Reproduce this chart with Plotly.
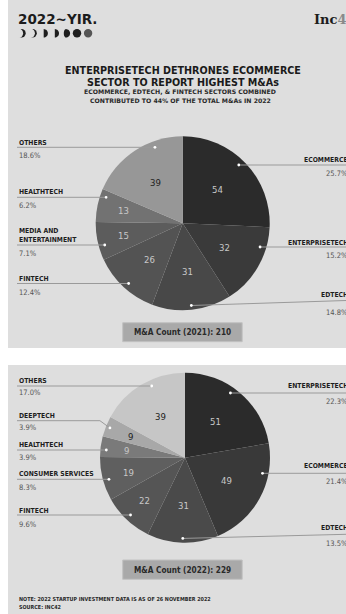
import math
import plotly.graph_objects as go

# ---------------- data ----------------
sectors_2021 = ["ECOMMERCE", "ENTERPRISETECH", "EDTECH", "FINTECH",
                "MEDIA AND<br>ENTERTAINMENT", "HEALTHTECH", "OTHERS"]
counts_2021 = [54, 32, 31, 26, 15, 13, 39]

sectors_2022 = ["ENTERPRISETECH", "ECOMMERCE", "EDTECH", "FINTECH",
                "CONSUMER SERVICES", "HEALTHTECH", "DEEPTECH", "OTHERS"]
counts_2022 = [51, 49, 31, 22, 19, 9, 9, 39]

years = ["2021", "2022"]

title_lines = ["ENTERPRISETECH DETHRONES ECOMMERCE", "SECTOR TO REPORT HIGHEST M&As"]
subtitle_lines = ["ECOMMERCE, EDTECH, & FINTECH SECTORS COMBINED",
                  "CONTRIBUTED TO 44% OF THE TOTAL M&As IN 2022"]
note_lines = ["NOTE: 2022 STARTUP INVESTMENT DATA IS AS OF 26 NOVEMBER 2022",
              "SOURCE: INC42"]

# ---------------- styles / layout ----------------
W, H = 346, 614
PANEL = "#dedede"

colors_2021 = ["#2b2b2b", "#3a3a3a", "#484848", "#535353", "#5c5c5c", "#727272", "#979797"]
colors_2022 = ["#2b2b2b", "#393939", "#4a4a4a", "#555555", "#5f5f5f", "#7a7a7a", "#a8a8a8", "#c6c6c6"]
numcol_2021 = ["#c8c8c8"] * 6 + ["#222222"]
numcol_2022 = ["#c8c8c8"] * 6 + ["#222222", "#222222"]

# pie geometry in pixels: centre x, centre y, radius
geo = [(182.7, 223.3, 87.0), (185.0, 457.7, 85.0)]

# label layout per sector (side, name y, line y, percent y, leader mode)
lab_2021 = [("r", 160, 165, 173.5, "h"), ("r", 242.5, 247, 255.5, "h"),
            ("r", 295, 300.5, 312, "m"), ("l", 279, 283.5, 292, "h"),
            ("l", 235.8, 245, 254, "h"), ("l", 191.7, 197.3, 205.5, "h"),
            ("l", 142.7, 147.3, 155.5, "h")]
lab_2022 = [("r", 386, 393, 401, "h"), ("r", 465.7, 473.3, 481.7, "h"),
            ("r", 528.3, 534.3, 543.3, "m"), ("l", 510.7, 515, 524, "h"),
            ("l", 474.3, 479.3, 487.7, "h"), ("l", 445, 450, 457, "h"),
            ("l", 416, 420.7, 427.5, "m"), ("l", 380.7, 386, 392.5, "h")]

COND = "DejaVu Sans Condensed, Liberation Sans Narrow, Roboto, sans-serif"
WIDE = "DejaVu Sans, Verdana, sans-serif"


def px(x):
    return x / W


def py(y):
    return 1 - y / H


fig = go.Figure()
shapes = []
annotations = []

# panels
shapes.append(dict(type="rect", xref="paper", yref="paper", x0=px(8), x1=1, y0=py(348), y1=1,
                   fillcolor=PANEL, line=dict(width=0), layer="below"))
shapes.append(dict(type="rect", xref="paper", yref="paper", x0=px(8), x1=1, y0=0, y1=py(365),
                   fillcolor=PANEL, line=dict(width=0), layer="below"))

# header
annotations.append(dict(x=px(16), y=py(19), xref="paper", yref="paper", xanchor="left", yanchor="middle",
                        text="<b>2022~YIR.</b>", showarrow=False,
                        font=dict(family=WIDE, size=13.5, color="#1c1c1c")))
annotations.append(dict(x=px(312), y=py(19), xref="paper", yref="paper", xanchor="left", yanchor="middle",
                        text="<b>Inc<span style='color:#8a8a8a'>42</span></b>", showarrow=False,
                        font=dict(family="DejaVu Serif, Liberation Serif, serif", size=13, color="#1c1c1c")))

# moon phase icons
for i in range(7):
    cx, cy, r = 21.5 + 11.1 * i, 33.3, 4.2
    col = "#555555" if i == 6 else "#1e1e1e"
    if i < 2:
        shapes.append(dict(type="circle", xref="paper", yref="paper", x0=px(cx - r), x1=px(cx + r),
                           y0=py(cy + r), y1=py(cy - r), fillcolor=col, line=dict(width=0)))
        off = 2.6 if i == 0 else 1.9
        shapes.append(dict(type="circle", xref="paper", yref="paper", x0=px(cx - r - off), x1=px(cx + r - off),
                           y0=py(cy + r + 0.3), y1=py(cy - r - 0.3), fillcolor=PANEL, line=dict(width=0)))
    elif i < 5:
        n = 16
        pts = []
        for k in range(n + 1):
            a = -math.pi / 2 + math.pi * k / n
            pts.append((cx + r * math.cos(a), cy + r * math.sin(a)))
        if i == 4:
            for k in range(n + 1):
                a = math.pi / 2 + math.pi * k / n
                pts.append((cx + 0.5 * r * math.cos(a), cy + r * math.sin(a)))
        path = "M " + " L ".join(f"{px(x):.5f},{py(y):.5f}" for x, y in pts) + " Z"
        shapes.append(dict(type="path", xref="paper", yref="paper", path=path,
                           fillcolor=col, line=dict(width=0)))
    else:
        shapes.append(dict(type="circle", xref="paper", yref="paper", x0=px(cx - r), x1=px(cx + r),
                           y0=py(cy + r), y1=py(cy - r), fillcolor=col, line=dict(width=0)))

# titles
annotations.append(dict(x=px(183), y=py(76.5), xref="paper", yref="paper", xanchor="center", yanchor="middle",
                        text="<br>".join(f"<b>{t}</b>" for t in title_lines), showarrow=False,
                        font=dict(family=WIDE, size=9.6, color="#1a1a1a")))
for t, yy in zip(subtitle_lines, [91.8, 100.2]):
    annotations.append(dict(x=px(180), y=py(yy), xref="paper", yref="paper", xanchor="center", yanchor="middle",
                            text=f"<b>{t}</b>", showarrow=False,
                            font=dict(family=WIDE, size=6.2, color="#2a2a2a")))

# pies
datasets = [(sectors_2021, counts_2021, colors_2021, numcol_2021, lab_2021),
            (sectors_2022, counts_2022, colors_2022, numcol_2022, lab_2022)]
box_y = [(322.7, 341.7), (560, 579.3)]

for idx, (sectors, counts, cols, ncols, labs) in enumerate(datasets):
    cx, cy, R = geo[idx]
    total = sum(counts)
    fig.add_trace(go.Pie(
        labels=[s.replace("<br>", " ") for s in sectors], values=counts, sort=False,
        direction="clockwise", rotation=0, textinfo="none",
        marker=dict(colors=cols, line=dict(width=0)),
        domain=dict(x=[px(cx - R), px(cx + R)], y=[py(cy + R), py(cy - R)]),
        showlegend=False, hoverinfo="label+value+percent"))

    cum = 0
    for k, (s, v) in enumerate(zip(sectors, counts)):
        frac = v / total
        mid = (cum + frac / 2) * 2 * math.pi
        cum += frac
        # value label inside the slice
        rf = 0.56 if frac >= 0.12 else 0.69
        tx, ty = cx + rf * R * math.sin(mid), cy - rf * R * math.cos(mid)
        annotations.append(dict(x=px(tx), y=py(ty), xref="paper", yref="paper", xanchor="center",
                                yanchor="middle", text=str(v), showarrow=False,
                                font=dict(family=COND, size=9.5, color=ncols[k])))
        side, ny, ly, pyy, mode = labs[k]
        # leader dot
        if mode == "h":
            rr = 0.93 * R
            dxx = math.sqrt(max(rr ** 2 - (ly - cy) ** 2, 0))
            dx_, dy_ = (cx + dxx if side == "r" else cx - dxx), ly
        else:
            dx_, dy_ = cx + 0.95 * R * math.sin(mid), cy - 0.95 * R * math.cos(mid)
        if side == "l":
            if mode == "h":
                path = f"M {px(17)},{py(ly)} L {px(dx_)},{py(dy_)}"
            else:
                path = f"M {px(17)},{py(ly)} L {px(dx_ - 10)},{py(ly)} L {px(dx_)},{py(dy_)}"
        else:
            path = f"M {px(dx_)},{py(dy_)} L {px(W)},{py(ly)}"
        shapes.append(dict(type="path", xref="paper", yref="paper", path=path,
                           line=dict(color="#9a9a9a", width=1), layer="above"))
        shapes.append(dict(type="circle", xref="paper", yref="paper", x0=px(dx_ - 1.4), x1=px(dx_ + 1.4),
                           y0=py(dy_ + 1.4), y1=py(dy_ - 1.4), fillcolor="#ffffff",
                           line=dict(width=0), layer="above"))
        # label texts
        xa = px(17) if side == "l" else px(350)
        anc = "left" if side == "l" else "right"
        annotations.append(dict(x=xa, y=py(ny), xref="paper", yref="paper", xanchor=anc, yanchor="middle",
                                align=anc, text=f"<b>{s}</b>", showarrow=False,
                                font=dict(family=COND, size=6.8, color="#1e1e1e")))
        annotations.append(dict(x=xa, y=py(pyy), xref="paper", yref="paper", xanchor=anc, yanchor="middle",
                                align=anc, text=f"{frac * 100:.1f}%", showarrow=False,
                                font=dict(family=COND, size=7.5, color="#555555")))

    # count box
    y0b, y1b = box_y[idx]
    shapes.append(dict(type="rect", xref="paper", yref="paper", x0=px(122.7), x1=px(242.2),
                       y0=py(y1b), y1=py(y0b), fillcolor="#a9a9a9",
                       line=dict(color="#c2c2c2", width=1)))
    annotations.append(dict(x=px(182.5), y=py((y0b + y1b) / 2), xref="paper", yref="paper",
                            xanchor="center", yanchor="middle",
                            text=f"<b>M&A Count ({years[idx]}): {total}</b>", showarrow=False,
                            font=dict(family=COND, size=8.2, color="#2a2a2a")))

# notes
for t, yy in zip(note_lines, [599.3, 606.7]):
    annotations.append(dict(x=px(17), y=py(yy), xref="paper", yref="paper", xanchor="left", yanchor="middle",
                            text=f"<b>{t}</b>", showarrow=False,
                            font=dict(family=COND, size=5.4, color="#2a2a2a")))

fig.update_layout(width=W, height=H, margin=dict(l=0, r=0, t=0, b=0),
                  paper_bgcolor="#ffffff", plot_bgcolor="rgba(0,0,0,0)",
                  shapes=shapes, annotations=annotations, showlegend=False)

fig.write_html("out.html", config={"displayModeBar": False})
